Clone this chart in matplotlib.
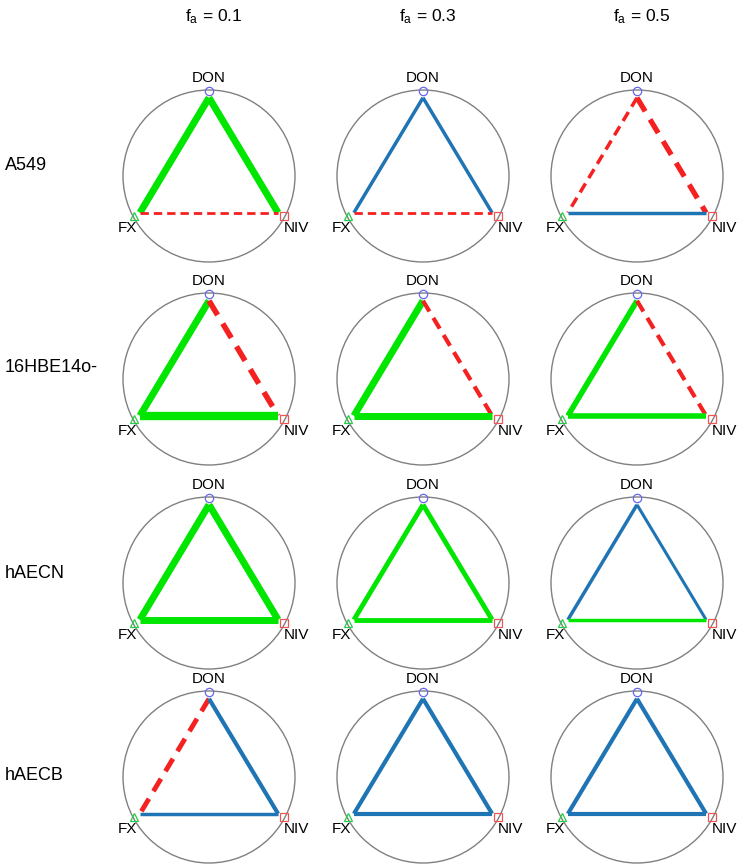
import numpy as np
import matplotlib.pyplot as plt
from matplotlib.patches import Circle

plt.rcParams['font.family'] = ['Liberation Sans', 'DejaVu Sans']

cells = ["A549", "16HBE14o-", "hAECN", "hAECB"]
fa_levels = ["0.1", "0.3", "0.5"]
drugs = ["DON", "FX", "NIV"]
# edge order: DON-FX, DON-NIV, FX-NIV
# kind: S = synergy (green), A = additive (blue), N = antagonism (red dashed)
edge_kind = [
    [["S", "S", "N"], ["A", "A", "N"], ["N", "N", "A"]],
    [["S", "N", "S"], ["S", "N", "S"], ["S", "N", "S"]],
    [["S", "S", "S"], ["S", "S", "S"], ["A", "A", "S"]],
    [["N", "A", "A"], ["A", "A", "A"], ["A", "A", "A"]],
]
edge_strength = [
    [[5.0, 5.0, 2.0], [2.5, 2.5, 2.0], [2.5, 3.8, 2.5]],
    [[5.0, 4.0, 6.0], [5.0, 3.0, 5.0], [4.0, 3.0, 4.0]],
    [[5.0, 5.0, 5.0], [3.5, 3.5, 3.5], [2.5, 2.2, 2.5]],
    [[3.5, 3.0, 2.5], [3.0, 3.0, 3.0], [3.0, 3.0, 3.0]],
]

W, H = 748, 867
fig = plt.figure(figsize=(W / 100, H / 100), dpi=100)

col_x = [209, 423, 637]
row_y = [176, 379, 583, 777]
R = 86  # circle radius in px
box = 220
lim = box / 2 / R

ang = np.deg2rad([90, 208, 332])
vx, vy = np.cos(ang), np.sin(ang)
edges = [(0, 1), (0, 2), (1, 2)]
colors = {"S": "#00e600", "A": "#1f74b4", "N": "#f52020"}
markers = [("o", "#6666ee"), ("^", "#22cc44"), ("s", "#ee5555")]

for i, cell in enumerate(cells):
    for j, fa in enumerate(fa_levels):
        cx, cy = col_x[j], H - row_y[i]
        ax = fig.add_axes([(cx - box / 2) / W, (cy - box / 2) / H, box / W, box / H])
        ax.set_xlim(-lim, lim)
        ax.set_ylim(-lim, lim)
        ax.set_aspect("equal")
        ax.axis("off")
        ax.add_patch(Circle((0, 0), 1, fill=False, ec="#808080", lw=1.0, clip_on=False))
        for k, (a, b) in enumerate(edges):
            kind = edge_kind[i][j][k]
            lw = edge_strength[i][j][k]
            ls = (0, (3, 1.8)) if kind == "N" else "-"
            ax.plot([0.91 * vx[a], 0.91 * vx[b]], [0.91 * vy[a], 0.91 * vy[b]],
                    color=colors[kind], lw=lw, ls=ls, solid_capstyle="butt",
                    dash_capstyle="butt", zorder=3)
        for m in range(3):
            ax.plot(0.99 * vx[m], 0.99 * vy[m], marker=markers[m][0], ms=6, mfc="none",
                    mec=markers[m][1], mew=0.9, zorder=4, clip_on=False)
        ax.text(0, 1.14, drugs[0], ha="center", va="center", fontsize=11, clip_on=False)
        ax.text(-0.95, -0.61, drugs[1], ha="center", va="center", fontsize=11, clip_on=False)
        ax.text(1.02, -0.61, drugs[2], ha="center", va="center", fontsize=11, clip_on=False)

for j, fa in enumerate(fa_levels):
    fig.text((col_x[j] + 5) / W, 1 - 17 / H, r"$\mathregular{f_a}$ = " + fa,
             ha="center", va="center", fontsize=12.5)

row_lab_y = [165, 368, 573, 776]
for i, cell in enumerate(cells):
    fig.text(5 / W, 1 - row_lab_y[i] / H, cell, ha="left", va="center", fontsize=13)

fig.savefig("out.png", dpi=100)
